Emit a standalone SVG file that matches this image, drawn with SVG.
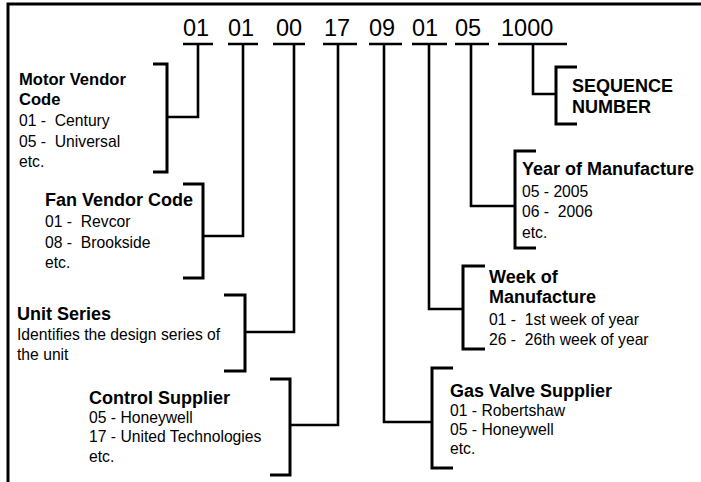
<svg xmlns="http://www.w3.org/2000/svg" width="701" height="482" viewBox="0 0 701 482">
<style>
  text { font-family: "Liberation Sans", Arial, Helvetica, sans-serif; fill: #000; }
  .code { font-size: 23.5px; }
  .h { font-size: 18px; font-weight: bold; }
  .t { font-size: 15.7px; }
  .ln { stroke: #000; stroke-width: 2.6; fill: none; stroke-linecap: butt; }
  .br { stroke: #000; stroke-width: 3; fill: none; }
  .bd { stroke: #000; stroke-width: 3; fill: none; }
</style>
<rect width="701" height="482" fill="#fff"/>
<path class="bd" d="M8 482 V4 H701"/>

<g id="code">
  <text class="code" x="183" y="36">01</text>
  <text class="code" x="228" y="36">01</text>
  <text class="code" x="276" y="36">00</text>
  <text class="code" x="324" y="36">17</text>
  <text class="code" x="369" y="36">09</text>
  <text class="code" x="412" y="36">01</text>
  <text class="code" x="455" y="36">05</text>
  <text class="code" x="501" y="36">1000</text>
  <path class="ln" d="M183 44 H213 M228 44 H258 M273 44 H305 M323 44 H357 M369 44 H402 M412 44 H447 M455 44 H489 M498 44 H567"/>
</g>

<g id="connectors">
  <path class="ln" d="M198 44 V117 H167"/>
  <path class="ln" d="M243 44 V236 H203"/>
  <path class="ln" d="M294 44 V332 H245"/>
  <path class="ln" d="M338 44 V425 H290"/>
  <path class="ln" d="M384 44 V422 H432"/>
  <path class="ln" d="M429 44 V309 H463"/>
  <path class="ln" d="M471 44 V206 H515"/>
  <path class="ln" d="M533 44 V94 H556"/>
</g>

<g id="motor-vendor">
  <path class="br" d="M153 64 H167 V172 H153"/>
  <text class="h" x="19" y="85" style="font-size:16.6px">Motor Vendor</text>
  <text class="h" x="19" y="105" style="font-size:16.6px">Code</text>
  <text class="t" x="19" y="126" xml:space="preserve">01 -  Century</text>
  <text class="t" x="19" y="147" xml:space="preserve">05 -  Universal</text>
  <text class="t" x="19" y="167">etc.</text>
</g>

<g id="fan-vendor">
  <path class="br" d="M183 184 H203 V278 H183"/>
  <text class="h" x="45" y="206">Fan Vendor Code</text>
  <text class="t" x="45" y="227" xml:space="preserve">01 -  Revcor</text>
  <text class="t" x="45" y="248" xml:space="preserve">08 -  Brookside</text>
  <text class="t" x="45" y="268">etc.</text>
</g>

<g id="unit-series">
  <path class="br" d="M224 295 H245 V371 H224"/>
  <text class="h" x="17" y="320">Unit Series</text>
  <text class="t" x="17" y="340">Identifies the design series of</text>
  <text class="t" x="17" y="360">the unit</text>
</g>

<g id="control-supplier">
  <path class="br" d="M270 379 H290 V475 H270"/>
  <text class="h" x="89" y="404">Control Supplier</text>
  <text class="t" x="89" y="423">05 - Honeywell</text>
  <text class="t" x="89" y="442">17 - United Technologies</text>
  <text class="t" x="89" y="462">etc.</text>
</g>

<g id="gas-valve-supplier">
  <path class="br" d="M453 368 H432 V468 H453"/>
  <text class="h" x="450" y="397">Gas Valve Supplier</text>
  <text class="t" x="450" y="416">01 - Robertshaw</text>
  <text class="t" x="450" y="435">05 - Honeywell</text>
  <text class="t" x="450" y="454">etc.</text>
</g>

<g id="week-of-manufacture">
  <path class="br" d="M485 266 H463 V349 H485"/>
  <text class="h" x="489" y="283">Week of</text>
  <text class="h" x="489" y="303">Manufacture</text>
  <text class="t" x="489" y="325" xml:space="preserve">01 -  1st week of year</text>
  <text class="t" x="489" y="345" xml:space="preserve">26 -  26th week of year</text>
</g>

<g id="year-of-manufacture">
  <path class="br" d="M536 151 H515 V248 H536"/>
  <text class="h" x="522" y="175">Year of Manufacture</text>
  <text class="t" x="522" y="197">05 - 2005</text>
  <text class="t" x="522" y="217" xml:space="preserve">06 -  2006</text>
  <text class="t" x="522" y="238">etc.</text>
</g>

<g id="sequence-number">
  <path class="br" d="M577 67 H556 V124 H577"/>
  <text class="h" x="572" y="92">SEQUENCE</text>
  <text class="h" x="572" y="113">NUMBER</text>
</g>
</svg>
